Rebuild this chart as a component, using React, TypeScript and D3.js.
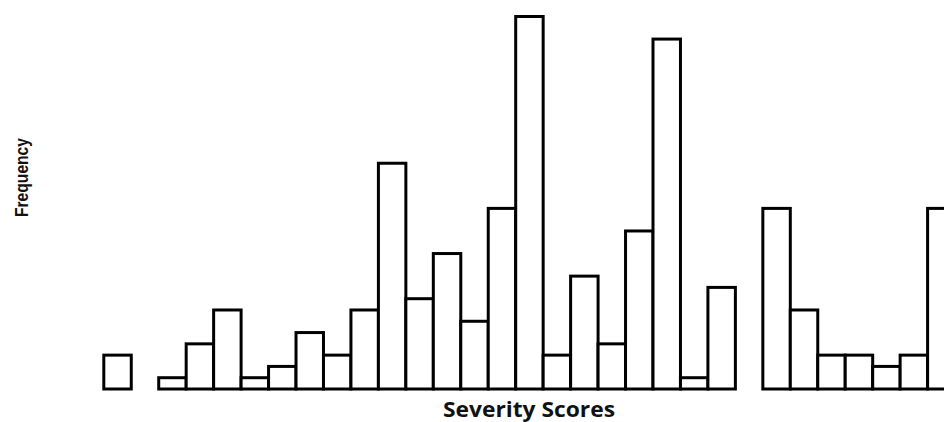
import React from "react";
import * as d3 from "d3";

const scores: number[] = Array.from({ length: 31 }, (_, i) => i);
const frequencies: number[] = [
  3, 0, 1, 4, 7, 1, 2, 5, 3, 7, 20, 8, 12, 6, 16, 33, 3, 10, 4, 14, 31, 1, 9, 0,
  16, 7, 3, 3, 2, 3, 16,
];
const xTitle = "Severity Scores";
const yTitle = "Frequency";

const W = 944;
const H = 422;

export default function App() {
  const step = 27.46;
  const x0 = 103.8;
  const x = d3
    .scaleBand<number>()
    .domain(scores)
    .range([x0, x0 + step * scores.length])
    .padding(0);
  const y = d3.scaleLinear().domain([0, 33]).range([389, 16.5]);

  return (
    <svg
      width={W}
      height={H}
      style={{ position: "absolute", left: 0, top: 0, background: "#fff" }}
    >
      <rect x={0} y={0} width={W} height={H} fill="#fff" />
      <g>
        {scores.map((s, i) =>
          frequencies[i] > 0 ? (
            <rect
              key={s}
              x={x(s)!}
              y={y(frequencies[i])}
              width={x.bandwidth()}
              height={y(0) - y(frequencies[i])}
              fill="#fff"
              stroke="#000"
              strokeWidth={3}
            />
          ) : null
        )}
      </g>
      <text
        x={529}
        y={417}
        textAnchor="middle"
        fontFamily="'Open Sans', sans-serif"
        fontWeight={700}
        fontSize={21.5}
        textLength={172}
        lengthAdjust="spacingAndGlyphs"
        fill="#111"
      >
        {xTitle}
      </text>
      <text
        transform={`translate(28,177.5) rotate(-90)`}
        textAnchor="middle"
        fontFamily="'Liberation Sans', Arial, sans-serif"
        fontWeight={700}
        fontSize={18.5}
        textLength={79}
        lengthAdjust="spacingAndGlyphs"
        fill="#111"
      >
        {yTitle}
      </text>
    </svg>
  );
}
